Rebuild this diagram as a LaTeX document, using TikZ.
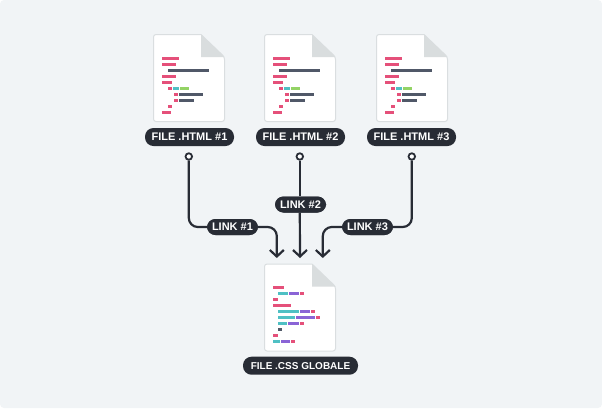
\documentclass[tikz,border=0pt]{standalone}
\usepackage{fontspec}
\setmainfont{Liberation Sans}
\usetikzlibrary{arrows.meta}
\definecolor{bgc}{HTML}{F1F4F6}
\definecolor{ink}{HTML}{282C35}
\definecolor{edge}{HTML}{DADEE0}
\definecolor{foldc}{HTML}{D9DDDE}
\definecolor{redb}{HTML}{E5507A}
\definecolor{tealb}{HTML}{4FC0C4}
\definecolor{greenb}{HTML}{93D365}
\definecolor{slateb}{HTML}{505868}
\definecolor{purpleb}{HTML}{8A64D6}
\tikzset{
  pill/.style={fill=ink,text=white,rounded corners=8.5pt,inner sep=0pt,minimum height=18pt,font=\bfseries\fontsize{11}{11}\selectfont},
  linkpill/.style={pill,minimum height=16pt,minimum width=51pt},
  filepill/.style={pill,minimum width=89pt},
  port/.style={circle,draw=ink,line width=1.8pt,fill=white,inner sep=0pt,minimum size=6.5pt},
  conn/.style={draw=ink,line width=2.2pt,rounded corners=9pt},
  arrowconn/.style={conn,-{Straight Barb[length=6.5pt,width=14pt,line width=2.2pt]}},
  sheet/.style={fill=white,draw=edge,line width=1pt,rounded corners=2.5pt},
  foldpart/.style={fill=foldc},
}
\newcommand{\fbar}[4]{\fill[#4] (#1,#3) rectangle (#2,#3+2.8);}
\newcommand{\sheetshape}{%
  \draw[sheet] (201,34.5) -- (153.5,34.5) -- (153.5,121.5) -- (224.5,121.5) -- (224.5,57) [sharp corners] -- (201,34.5);
  \fill[foldpart] (201,34.5) -- (224.5,57) -- (201,57) -- cycle;
}
\newcommand{\htmldoc}{%
  \sheetshape
  \fbar{162}{179}{57}{redb}
  \fbar{162}{176}{63}{redb}
  \fbar{168}{209}{69}{slateb}
  \fbar{162}{176}{75}{redb}
  \fbar{162}{172}{81}{redb}
  \fbar{168}{172}{87}{redb}
  \fbar{173}{179}{87}{tealb}
  \fbar{180}{189}{87}{greenb}
  \fbar{174}{178}{93}{redb}
  \fbar{179}{203}{93}{slateb}
  \fbar{174}{178}{99}{redb}
  \fbar{179}{194}{99}{slateb}
  \fbar{168}{172}{105}{redb}
  \fbar{162}{171}{111}{redb}
}
\begin{document}
\begin{tikzpicture}[x=1pt,y=-1pt]
\useasboundingbox (0,0) rectangle (602,408);
\fill[white] (0,0) rectangle (602,408);
\fill[bgc,rounded corners=4pt] (0,0) rectangle (602,408);
\begin{scope}\htmldoc\end{scope}
\begin{scope}[shift={(111,0)}]\htmldoc\end{scope}
\begin{scope}[shift={(223,0)}]\htmldoc\end{scope}
\begin{scope}[shift={(111,229.5)}]
  \sheetshape
\end{scope}
\fbar{273}{284}{286}{redb}
\fbar{278}{288}{292}{tealb}\fbar{289}{299}{292}{purpleb}\fbar{300}{304}{292}{redb}
\fbar{273}{278}{298}{redb}
\fbar{273}{291}{304}{redb}
\fbar{278}{299}{310}{tealb}\fbar{300}{310}{310}{purpleb}\fbar{311}{315}{310}{redb}
\fbar{278}{295}{316}{tealb}\fbar{296}{315}{316}{purpleb}\fbar{316}{320}{316}{redb}
\fbar{278}{287}{322}{tealb}\fbar{288}{299}{322}{purpleb}\fbar{300}{304}{322}{redb}
\fbar{278}{282}{328}{slateb}
\fbar{273}{278}{334}{redb}
\fbar{273}{280}{340}{tealb}\fbar{281}{290}{340}{purpleb}\fbar{291}{295}{340}{redb}

\node[filepill] (f1) at (189.5,137) {FILE .HTML \#1};
\node[filepill] (f2) at (300.5,137) {FILE .HTML \#2};
\node[filepill] (f3) at (411.5,137) {FILE .HTML \#3};
\node[pill,minimum width=115pt,font=\bfseries\fontsize{10}{10}\selectfont] (css) at (300.5,365.7) {FILE .CSS GLOBALE};

\node[port] (p1) at (188.8,156.5) {};
\node[port] (p2) at (299.8,156.5) {};
\node[port] (p3) at (411.8,156.5) {};

\node[linkpill] (l1) at (232.5,227) {};
\node[linkpill] (l2) at (300.5,204.5) {};
\node[linkpill] (l3) at (367.5,227) {};
\coordinate (t1) at (276.8,258);
\coordinate (t2) at (300,258);
\coordinate (t3) at (322.8,258);

\draw[conn] (p1.south) |- (l1.west);
\draw[arrowconn] (l1.east) -| (t1);
\draw[conn] (p2.south) -- (p2 |- l2.north);
\draw[arrowconn] (p2 |- l2.south) -- (t2);
\draw[conn] (p3.south) |- (l3.east);
\draw[arrowconn] (l3.west) -| (t3);

\node[linkpill] at (l1) {LINK \#1};
\node[linkpill] at (l2) {LINK \#2};
\node[linkpill] at (l3) {LINK \#3};
\end{tikzpicture}
\end{document}
